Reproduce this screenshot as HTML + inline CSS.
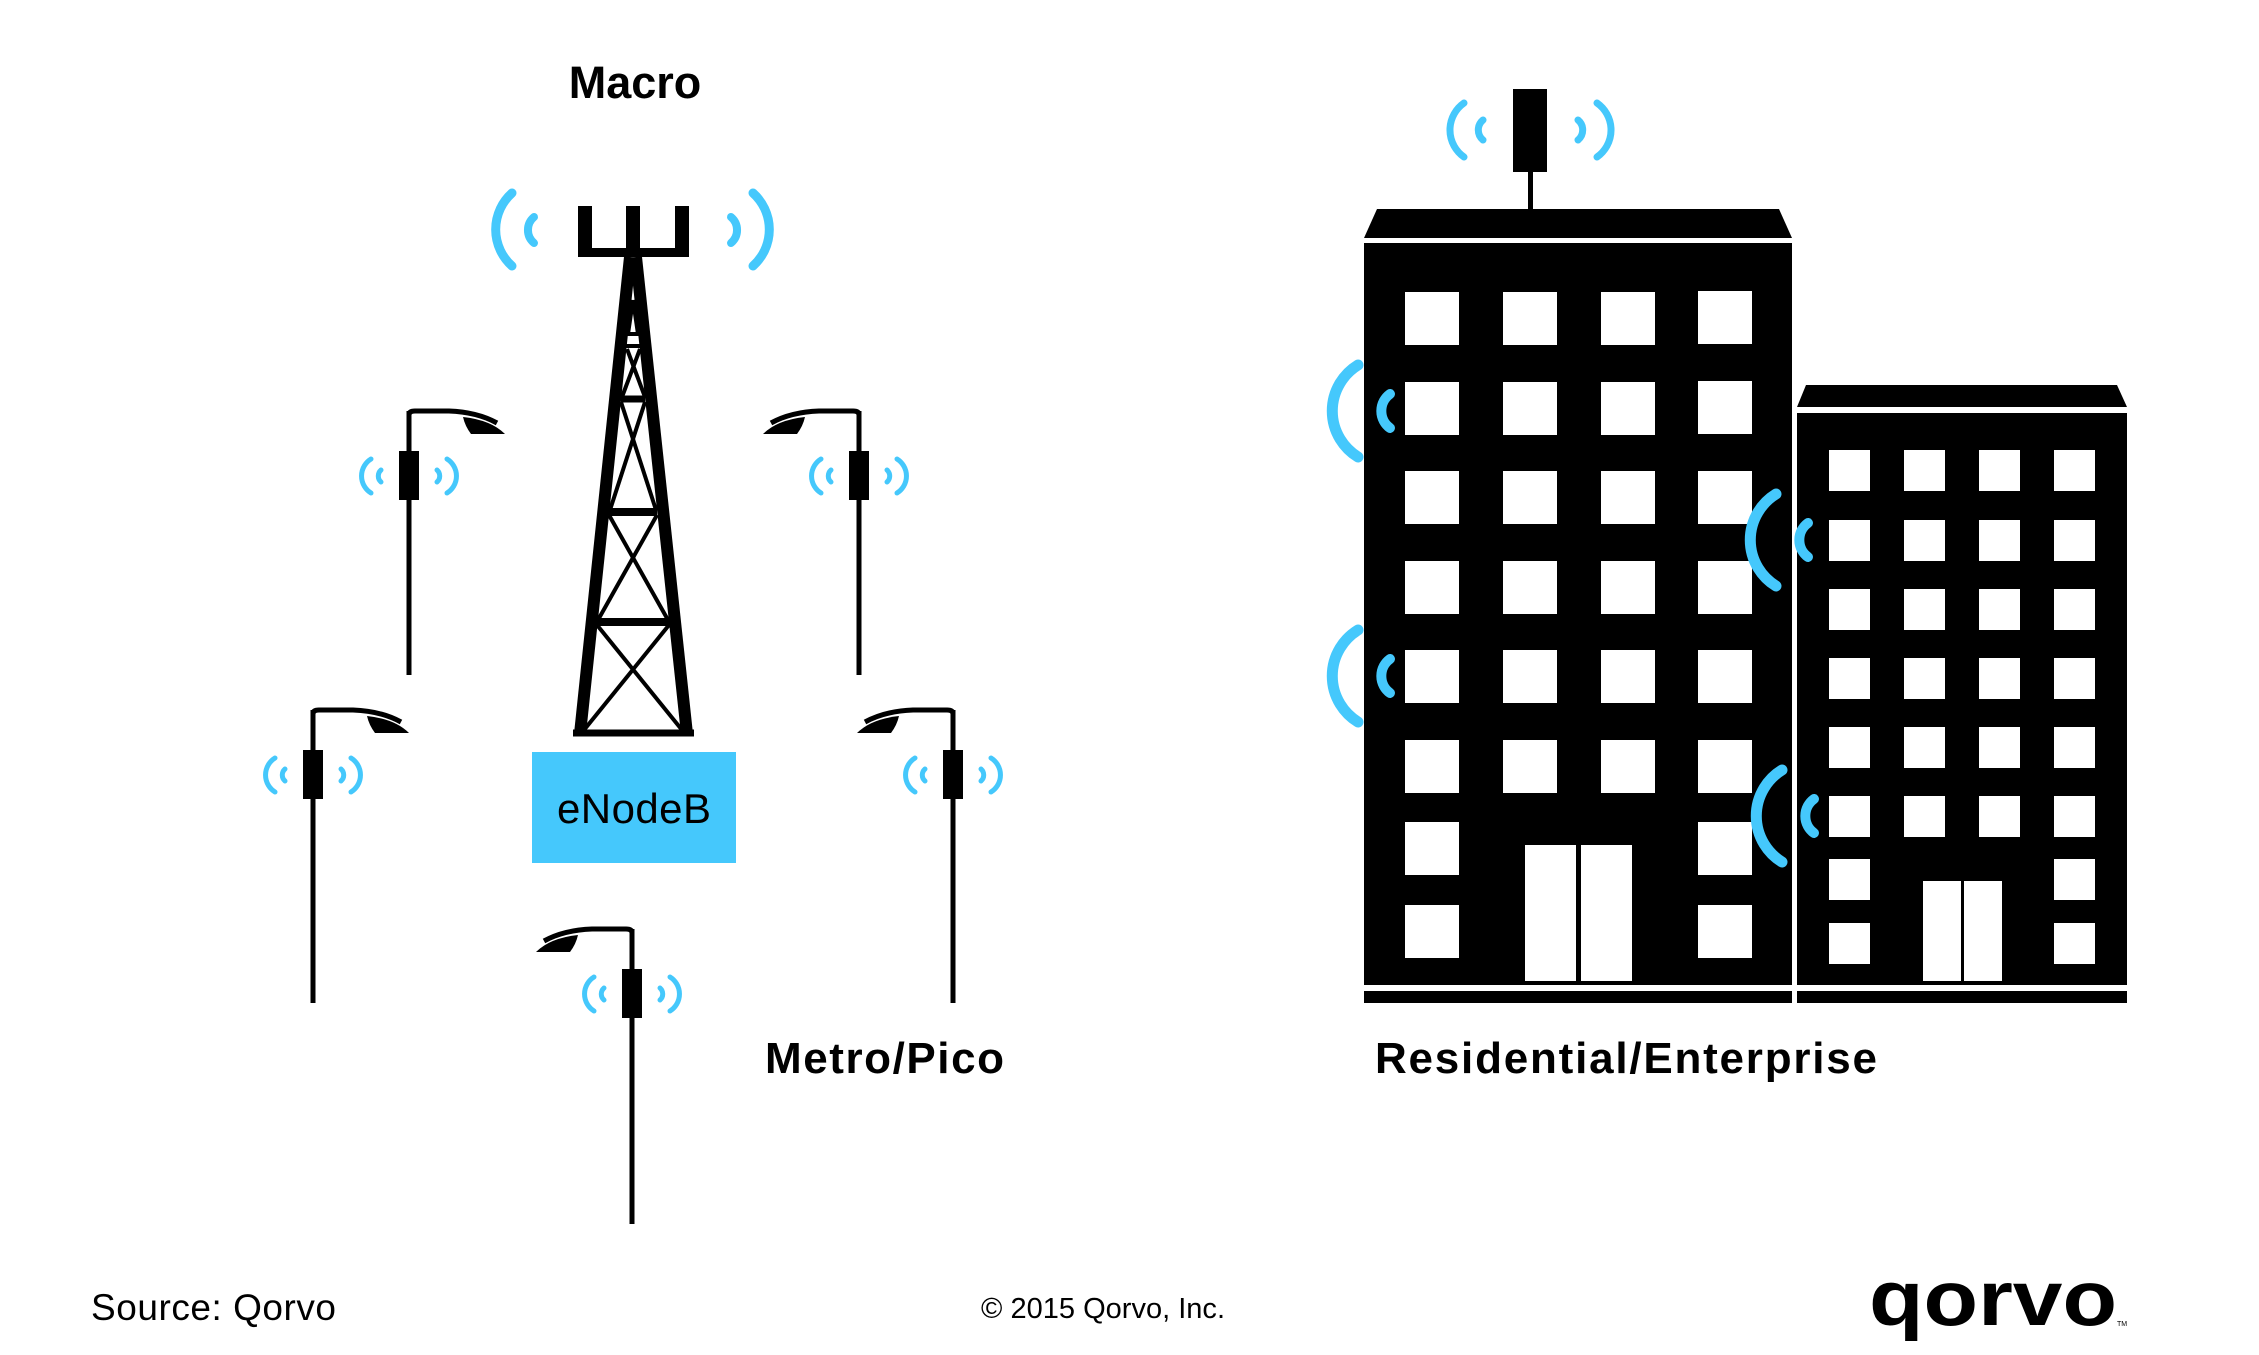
<!DOCTYPE html>
<html><head><meta charset="utf-8"><style>html,body{margin:0;padding:0;background:#fff}svg{display:block}</style></head>
<body>
<svg width="2259" height="1355" viewBox="0 0 2259 1355" xmlns="http://www.w3.org/2000/svg">
<defs>
<g id="sig" fill="none" stroke="#45c8fc" stroke-linecap="round" stroke-width="5">
  <path d="M-38,48 A20 20 0 0 0 -38,82"/>
  <path d="M-28,59 A8 8 0 0 0 -28,71"/>
  <path d="M38,48 A20 20 0 0 1 38,82"/>
  <path d="M28,59 A8 8 0 0 1 28,71"/>
  <rect x="-10" y="40" width="20" height="49" fill="#000" stroke="none"/>
</g>
<g id="armR">
  <path d="M0,10 L0,4 Q0,0 6,0 L40,0 Q68,1 88,12" fill="none" stroke="#000" stroke-width="5"/>
  <path d="M54,6 Q82,9 96,23 L62,23 Q56,15 54,6Z" fill="#000"/>
</g>
<g id="bs" fill="none" stroke="#45c8fc" stroke-linecap="round">
  <path d="M0,-46 A54 54 0 0 0 0,46" stroke-width="11"/>
  <path d="M32,-17 A21 21 0 0 0 32,17" stroke-width="10"/>
</g>
</defs>

<text x="635" y="98" font-family="Liberation Sans, sans-serif" font-weight="bold" font-size="45" text-anchor="middle">Macro</text>
<g fill="#000">
  <rect x="578" y="206" width="14" height="51"/>
  <rect x="626" y="206" width="14" height="51"/>
  <rect x="675" y="206" width="14" height="51"/>
  <rect x="578" y="248" width="111" height="9"/>
</g>
<g stroke="#000" fill="none">
  <line x1="630" y1="257" x2="580" y2="734" stroke-width="12"/>
  <line x1="636" y1="257" x2="687" y2="734" stroke-width="12"/>
  <line x1="573" y1="733" x2="694" y2="733" stroke-width="7"/>
  <line x1="627" y1="334" x2="639" y2="334" stroke-width="4"/>
  <line x1="626" y1="346" x2="641" y2="346" stroke-width="4"/>
  <line x1="621" y1="399" x2="645" y2="399" stroke-width="7"/>
  <line x1="609" y1="512" x2="657" y2="512" stroke-width="8"/>
  <line x1="597" y1="622" x2="670" y2="622" stroke-width="8"/>
  <g stroke-width="4">
    <line x1="633" y1="300" x2="628" y2="334"/><line x1="633" y1="300" x2="638" y2="334"/>
    <line x1="627" y1="349" x2="645" y2="397"/><line x1="640" y1="349" x2="622" y2="397"/>
    <line x1="621" y1="402" x2="656" y2="510"/><line x1="645" y1="402" x2="610" y2="510"/>
    <line x1="609" y1="515" x2="668" y2="620"/><line x1="657" y1="515" x2="598" y2="620"/>
    <line x1="597" y1="625" x2="682" y2="730"/><line x1="669" y1="625" x2="584" y2="730"/>
  </g>
</g>
<g fill="none" stroke="#45c8fc" stroke-linecap="round">
  <path d="M512,193 A49 49 0 0 0 512,266" stroke-width="9"/>
  <path d="M534,217 A17 17 0 0 0 534,243" stroke-width="8"/>
  <path d="M753,193 A49 49 0 0 1 753,266" stroke-width="9"/>
  <path d="M731,217 A17 17 0 0 1 731,243" stroke-width="8"/>
</g>
<rect x="532" y="752" width="204" height="111" fill="#45c8fc"/>
<text x="634" y="823" font-family="Liberation Sans, sans-serif" font-size="42" text-anchor="middle" textLength="154">eNodeB</text>

<g stroke="#000" stroke-width="5">
  <line x1="409" y1="411" x2="409" y2="675"/>
  <line x1="859" y1="411" x2="859" y2="675"/>
  <line x1="313" y1="710" x2="313" y2="1003"/>
  <line x1="953" y1="710" x2="953" y2="1003"/>
  <line x1="632" y1="929" x2="632" y2="1224"/>
</g>
<use href="#armR" transform="translate(409,411)"/>
<use href="#sig" transform="translate(409,411)"/>
<use href="#armR" transform="translate(859,411) scale(-1,1)"/>
<use href="#sig" transform="translate(859,411)"/>
<use href="#armR" transform="translate(313,710)"/>
<use href="#sig" transform="translate(313,710)"/>
<use href="#armR" transform="translate(953,710) scale(-1,1)"/>
<use href="#sig" transform="translate(953,710)"/>
<use href="#armR" transform="translate(632,929) scale(-1,1)"/>
<use href="#sig" transform="translate(632,929)"/>
<text x="765" y="1073" font-family="Liberation Sans, sans-serif" font-weight="bold" font-size="44" textLength="239">Metro/Pico</text>

<g fill="#000">
  <rect x="1513" y="89" width="34" height="83"/>
  <rect x="1528" y="170" width="5" height="40"/>
  <polygon points="1377,209 1779,209 1792,238 1364,238"/>
  <rect x="1364" y="243" width="428" height="742"/>
  <rect x="1364" y="991" width="428" height="12"/>
  <polygon points="1806,385 2117,385 2127,407 1797,407"/>
  <rect x="1797" y="413" width="330" height="572"/>
  <rect x="1797" y="991" width="330" height="12"/>
</g>
<g fill="#fff">
  <rect x="1405" y="292" width="54" height="53"/><rect x="1503" y="292" width="54" height="53"/><rect x="1601" y="292" width="54" height="53"/><rect x="1698" y="291" width="54" height="53"/>
  <rect x="1405" y="382" width="54" height="53"/><rect x="1503" y="382" width="54" height="53"/><rect x="1601" y="382" width="54" height="53"/><rect x="1698" y="381" width="54" height="53"/>
  <rect x="1405" y="471" width="54" height="53"/><rect x="1503" y="471" width="54" height="53"/><rect x="1601" y="471" width="54" height="53"/><rect x="1698" y="471" width="54" height="53"/>
  <rect x="1405" y="561" width="54" height="53"/><rect x="1503" y="561" width="54" height="53"/><rect x="1601" y="561" width="54" height="53"/><rect x="1698" y="561" width="54" height="53"/>
  <rect x="1405" y="650" width="54" height="53"/><rect x="1503" y="650" width="54" height="53"/><rect x="1601" y="650" width="54" height="53"/><rect x="1698" y="650" width="54" height="53"/>
  <rect x="1405" y="740" width="54" height="53"/><rect x="1503" y="740" width="54" height="53"/><rect x="1601" y="740" width="54" height="53"/><rect x="1698" y="740" width="54" height="53"/>
  <rect x="1405" y="822" width="54" height="53"/><rect x="1698" y="822" width="54" height="53"/>
  <rect x="1405" y="905" width="54" height="53"/><rect x="1698" y="905" width="54" height="53"/>
  <rect x="1525" y="845" width="51" height="136"/><rect x="1581" y="845" width="51" height="136"/>
  <rect x="1829" y="450" width="41" height="41"/><rect x="1904" y="450" width="41" height="41"/><rect x="1979" y="450" width="41" height="41"/><rect x="2054" y="450" width="41" height="41"/>
  <rect x="1829" y="520" width="41" height="41"/><rect x="1904" y="520" width="41" height="41"/><rect x="1979" y="520" width="41" height="41"/><rect x="2054" y="520" width="41" height="41"/>
  <rect x="1829" y="589" width="41" height="41"/><rect x="1904" y="589" width="41" height="41"/><rect x="1979" y="589" width="41" height="41"/><rect x="2054" y="589" width="41" height="41"/>
  <rect x="1829" y="658" width="41" height="41"/><rect x="1904" y="658" width="41" height="41"/><rect x="1979" y="658" width="41" height="41"/><rect x="2054" y="658" width="41" height="41"/>
  <rect x="1829" y="727" width="41" height="41"/><rect x="1904" y="727" width="41" height="41"/><rect x="1979" y="727" width="41" height="41"/><rect x="2054" y="727" width="41" height="41"/>
  <rect x="1829" y="796" width="41" height="41"/><rect x="1904" y="796" width="41" height="41"/><rect x="1979" y="796" width="41" height="41"/><rect x="2054" y="796" width="41" height="41"/>
  <rect x="1829" y="859" width="41" height="41"/><rect x="2054" y="859" width="41" height="41"/>
  <rect x="1829" y="923" width="41" height="41"/><rect x="2054" y="923" width="41" height="41"/>
  <rect x="1923" y="881" width="38" height="100"/><rect x="1964" y="881" width="38" height="100"/>
</g>
<g fill="none" stroke="#45c8fc" stroke-linecap="round" stroke-width="7">
  <path d="M1464,103 A33 33 0 0 0 1464,157"/>
  <path d="M1483,120 A13 13 0 0 0 1483,140"/>
  <path d="M1597,103 A33 33 0 0 1 1597,157"/>
  <path d="M1578,120 A13 13 0 0 1 1578,140"/>
</g>
<use href="#bs" transform="translate(1358,411)"/>
<use href="#bs" transform="translate(1358,676)"/>
<use href="#bs" transform="translate(1776,540)"/>
<use href="#bs" transform="translate(1782,816)"/>
<text x="1375" y="1073" font-family="Liberation Sans, sans-serif" font-weight="bold" font-size="44" textLength="502">Residential/Enterprise</text>

<text x="91" y="1320" font-family="Liberation Sans, sans-serif" font-size="37" textLength="245">Source: Qorvo</text>
<text x="981" y="1318" font-family="Liberation Sans, sans-serif" font-size="29" textLength="244">© 2015 Qorvo, Inc.</text>
<text x="1869" y="1325" font-family="Liberation Sans, sans-serif" font-weight="bold" font-size="78" textLength="248" lengthAdjust="spacingAndGlyphs">qorvo</text>
<text x="2117" y="1326" font-family="Liberation Sans, sans-serif" font-size="7">TM</text>
</svg>
</body></html>
